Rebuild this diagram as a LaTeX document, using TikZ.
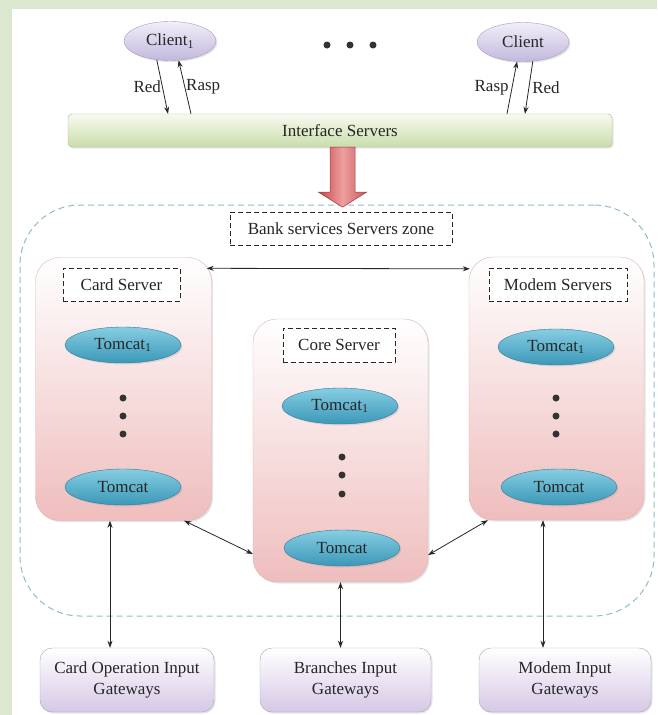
\documentclass[tikz,border=0pt]{standalone}
\usepackage{fontspec}
\setmainfont{Liberation Serif}
\usetikzlibrary{shapes.geometric,arrows.meta,calc,shadows}

\definecolor{bggreen}{HTML}{DCE7D0}
\definecolor{zoneline}{HTML}{8FBCC6}
\definecolor{clienttop}{HTML}{F2EEF9}
\definecolor{clientbot}{HTML}{C3B8DD}
\definecolor{clientline}{HTML}{A69CC0}
\definecolor{ifacetop}{HTML}{F7FAF0}
\definecolor{ifacebot}{HTML}{CADDAA}
\definecolor{ifaceline}{HTML}{A9BA90}
\definecolor{servbot}{HTML}{EFBDBD}
\definecolor{servline}{HTML}{D9B4B4}
\definecolor{tomtop}{HTML}{86CDE2}
\definecolor{tombot}{HTML}{3B98B8}
\definecolor{tomline}{HTML}{2E7C98}
\definecolor{gwbot}{HTML}{D6C8E6}
\definecolor{gwline}{HTML}{ABA0BC}
\definecolor{arrdark}{HTML}{C4474A}
\definecolor{arrlight}{HTML}{EE9FA0}

\tikzset{
	txt/.style={font=\fontsize{17}{21}\selectfont, text=black!85},
	softshadow/.style={drop shadow={opacity=0.2, shadow xshift=1.5pt, shadow yshift=-1.5pt}},
	client/.style={ellipse, draw=clientline, top color=clienttop, bottom color=clientbot,
		minimum width=92pt, minimum height=39pt, inner sep=0pt, softshadow, txt},
	iface/.style={rectangle, rounded corners=4pt, draw=ifaceline, top color=ifacetop,
		bottom color=ifacebot, minimum width=544pt, minimum height=33pt, softshadow, txt},
	zone/.style={rectangle, rounded corners=60pt, draw=zoneline, line width=1pt,
		dash pattern=on 6pt off 4pt, minimum width=634pt, minimum height=411pt},
	lblbox/.style={rectangle, draw=black!85, line width=0.9pt, dash pattern=on 5pt off 3pt,
		fill=white, minimum height=33pt, inner sep=0pt, txt},
	server/.style={rectangle, rounded corners=24pt, draw=servline, top color=white,
		bottom color=servbot, minimum width=176pt, minimum height=263pt, softshadow},
	tomcat/.style={ellipse, draw=tomline, top color=tomtop, bottom color=tombot,
		minimum width=116pt, minimum height=36pt, inner sep=0pt, softshadow, txt},
	gateway/.style={rectangle, rounded corners=12pt, draw=gwline, top color=white,
		bottom color=gwbot, minimum height=64pt, align=center, softshadow, txt},
	arr/.style={-{Stealth[length=7pt,width=5pt]}, line width=0.8pt, black!85},
	biarr/.style={{Stealth[length=7pt,width=5pt]}-{Stealth[length=7pt,width=5pt]}, line width=0.8pt, black!85},
	bigarrow/.style={draw=arrdark!80!black, line width=0.5pt, left color=arrdark,
		right color=arrdark!90, middle color=arrlight}
}

\begin{document}
\begin{tikzpicture}[x=1pt, y=-1pt]
\useasboundingbox (0,0) rectangle (657,715);
\fill[bggreen] (0,0) rectangle (657,715);
\fill[white] (12,9) rectangle (657,715);

% clients and interface layer
\node[client] (client1) at (170,41) {Client\textsubscript{1}};
\node[client] (clientn) at (523,42) {Client};
\foreach \x in {327,350,373}
	\fill[black!80] (\x,45) circle (3.5pt);
\node[iface] (iface) at (340,130.5) {Interface Servers};

\draw[arr] (client1.235) -- node[left, txt, inner sep=1pt] {Red} ($(iface.north)+(-172,0)$);
\draw[arr] ($(iface.north)+(-149,0)$) -- node[right, txt, inner sep=1pt] {Rasp} (client1.294);
\draw[arr] ($(iface.north)+(167,0)$) -- node[left, txt, inner sep=3pt] {Rasp} (clientn.253);
\draw[arr] (clientn.297) -- node[right, txt, inner sep=3pt] {Red} ($(iface.north)+(185,0)$);

% bank zone
\node[zone] (zone) at (337,410.5) {};
\path[bigarrow, shift={(iface.south)}] (-10,0) -- (-10,45) -- (-21.5,45) -- (2.5,60)
	-- (26.5,45) -- (15,45) -- (15,0) -- cycle;
\node[lblbox, minimum width=222pt] (bankzone) at (341,228.5) {Bank services Servers zone};

\node[server] (card) at (123.5,389) {};
\node[server, minimum width=175pt] (core) at (340.5,450.5) {};
\node[server, minimum width=175pt] (modem) at (556.5,388.5) {};

\node[lblbox, minimum width=117pt] (cardlbl) at (121.5,284.5) {Card Server};
\node[lblbox, minimum width=112pt, minimum height=34pt] (corelbl) at (339,345) {Core Server};
\node[lblbox, minimum width=138pt] (modemlbl) at (558,284.5) {Modem Servers};

\node[tomcat] (cardt1) at (123,345) {Tomcat\textsubscript{1}};
\node[tomcat] (cardtn) at (123,487) {Tomcat};
\node[tomcat] (coret1) at (340,406) {Tomcat\textsubscript{1}};
\node[tomcat] (coretn) at (342,548) {Tomcat};
\node[tomcat] (modemt1) at (556,347) {Tomcat\textsubscript{1}};
\node[tomcat] (modemtn) at (559,487) {Tomcat};

\foreach \y in {398,416,434} {
	\fill[black!80] (123,\y) circle (3.5pt);
	\fill[black!80] (556,\y) circle (3.5pt);
}
\foreach \y in {457,475,494}
	\fill[black!80] (342,\y) circle (3.5pt);

\draw[biarr] ($(card.north east)+(-5,11)$) -- ($(modem.north west)+(1,12)$);
\draw[biarr] ($(card.south east)+(-27.5,0)$) -- ($(core.west)+(0,103.5)$);
\draw[biarr] ($(modem.south west)+(19,0)$) -- ($(core.east)+(0,104.5)$);

% input gateways
\node[gateway, minimum width=174pt] (gwcard) at (127,680) {Card Operation Input\\Gateways};
\node[gateway, minimum width=171pt] (gwbranch) at (345.5,680) {Branches Input\\Gateways};
\node[gateway, minimum width=172pt] (gwmodem) at (565,680) {Modem Input\\Gateways};

\coordinate (cardout) at ($(card.south)+(-13.5,0)$);
\coordinate (modemout) at ($(modem.south)+(-13.5,0)$);
\draw[biarr] (cardout) -- (cardout |- gwcard.north);
\draw[biarr] (core.south) -- (core.south |- gwbranch.north);
\draw[biarr] (modemout) -- (modemout |- gwmodem.north);
% \draw[biarr] (zone.south) -- (gwbranch.north);
\end{tikzpicture}
\end{document}
